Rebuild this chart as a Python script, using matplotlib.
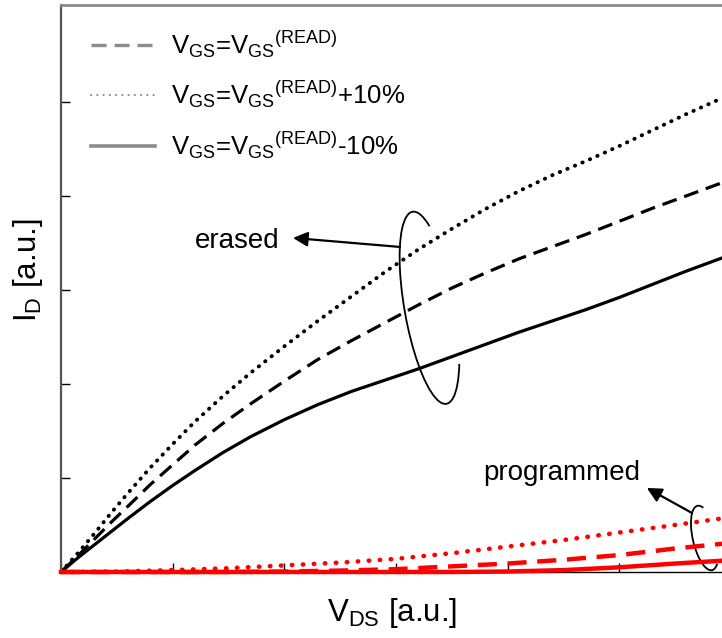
import numpy as np
import matplotlib.pyplot as plt
from matplotlib.patches import Arc
from matplotlib.lines import Line2D
from matplotlib import transforms

plt.rcParams['font.family'] = 'Liberation Sans'
plt.rcParams['mathtext.fontset'] = 'custom'
plt.rcParams['mathtext.rm'] = 'Liberation Sans'
plt.rcParams['mathtext.it'] = 'Liberation Sans'
plt.rcParams['mathtext.default'] = 'regular'

# cella cancellata (erased): I_D vs V_DS per tre valori di V_GS
vds_er = [0, 0.15, 0.3, 0.45, 0.6, 0.8, 1.0, 1.2, 1.45, 1.7, 2.0, 2.3,
          2.6, 2.9, 3.2, 3.5, 3.8, 4.1, 4.4, 4.7, 5.0, 5.3, 5.6, 5.92]
id_er_read = [0, 0.17, 0.35, 0.53, 0.70, 0.93, 1.14, 1.35, 1.58, 1.79, 2.03, 2.26,
              2.46, 2.65, 2.84, 3.02, 3.18, 3.33, 3.46, 3.59, 3.73, 3.87, 4.00, 4.14]
id_er_plus = [0, 0.20, 0.41, 0.63, 0.84, 1.11, 1.36, 1.60, 1.87, 2.12, 2.40, 2.67,
              2.93, 3.19, 3.43, 3.65, 3.86, 4.05, 4.22, 4.37, 4.53, 4.70, 4.87, 5.04]
id_er_minus = [0, 0.15, 0.29, 0.43, 0.57, 0.75, 0.92, 1.08, 1.27, 1.44, 1.62, 1.78,
               1.92, 2.04, 2.16, 2.29, 2.42, 2.55, 2.67, 2.79, 2.92, 3.06, 3.20, 3.34]

# cella programmata
vds_pr = [0, 0.5, 1.0, 1.5, 2.0, 2.5, 3.0, 3.5, 4.0, 4.5, 5.0, 5.5, 5.92]
id_pr_read = [0, 0, 0, 0, 0.005, 0.015, 0.03, 0.06, 0.09, 0.13, 0.18, 0.25, 0.30]
id_pr_plus = [0, 0.005, 0.02, 0.04, 0.07, 0.10, 0.14, 0.20, 0.27, 0.34, 0.42, 0.50, 0.57]
id_pr_minus = [0, 0, 0, 0, 0, 0, 0, 0, 0.005, 0.02, 0.05, 0.09, 0.12]

leg_labels = [r'$V_{GS}$=$V_{GS}{}^{(READ)}$',
              r'$V_{GS}$=$V_{GS}{}^{(READ)}$+10%',
              r'$V_{GS}$=$V_{GS}{}^{(READ)}$-10%']

fig = plt.figure(figsize=(7.22, 6.38), dpi=100)
ax = fig.add_axes([61/722, 66/638, 670/722, 567/638])

ax.plot(vds_er, id_er_read, color='k', lw=2.3, ls=(0, (4.7, 2.5)))
ax.plot(vds_er, id_er_plus, color='k', lw=2.8, ls=(0, (0.1, 2.0)), dash_capstyle='round')
ax.plot(vds_er, id_er_minus, color='k', lw=2.3)

ax.plot(vds_pr, id_pr_read, color='red', lw=3.2, ls=(0, (4.3, 2.4)), clip_on=False, zorder=4)
ax.plot(vds_pr, id_pr_plus, color='red', lw=3.3, ls=(0, (0.1, 2.3)), dash_capstyle='round',
        clip_on=False, zorder=4)
ax.plot(vds_pr, id_pr_minus, color='red', lw=3.2, clip_on=False, zorder=5)

ax.set_xlim(0, 6)
ax.set_ylim(0, 6.03)
ax.set_xticks(range(6))
ax.set_yticks(range(6))
ax.tick_params(direction='in', length=6.5, width=1, color='k',
               labelbottom=False, labelleft=False)
ax.spines['right'].set_visible(False)
ax.spines['top'].set_color('#8a8a8a')
ax.spines['top'].set_linewidth(2)
ax.spines['left'].set_color('#555555')
ax.spines['left'].set_linewidth(1.6)
ax.spines['bottom'].set_linewidth(1)

ax.set_xlabel(r'$V_{DS}$ [a.u.]', fontsize=22.5)
ax.xaxis.set_label_coords(0.494, -0.043)
ax.set_ylabel(r'$I_{D}$ [a.u.]', fontsize=22.5)
ax.yaxis.set_label_coords(-0.024, 0.533)

# legenda in grigio
gray = '#8c8c8c'
handles = [Line2D([], [], color=gray, lw=2.4, ls=(0, (4.5, 2.4))),
           Line2D([], [], color=gray, lw=1.5, ls=(0, (0.1, 2.9)), dash_capstyle='round'),
           Line2D([], [], color=gray, lw=2.6)]
ax.legend(handles, leg_labels, loc='upper left', bbox_to_anchor=(0.045, 0.958),
          frameon=False, fontsize=18.5, handlelength=2.5, handletextpad=0.62,
          labelspacing=0.74, borderpad=0, borderaxespad=0)


def bracket(cx, cy, w, h, angle, t1, t2):
    tr = transforms.Affine2D() + transforms.ScaledTranslation(cx, cy, ax.transData)
    ax.add_patch(Arc((0, 0), w, h, angle=angle, theta1=t1, theta2=t2,
                     transform=tr, color='k', lw=1.3, clip_on=False))


arrow = dict(arrowstyle='-|>', color='k', lw=1.6, mutation_scale=22,
             shrinkA=0, shrinkB=0)

# erased
bracket(3.30, 2.81, 50, 195, 10, 80, 288)
ax.annotate('', xy=(2.077, 3.553), xytext=(3.035, 3.457), arrowprops=arrow)
ax.text(1.96, 3.447, 'erased', ha='right', va='baseline', fontsize=20)

# programmed
bracket(5.765, 0.362, 24, 66, 12.8, 80, 283)
ax.annotate('', xy=(5.246, 0.894), xytext=(5.65, 0.628), arrowprops=arrow)
ax.text(3.78, 0.98, 'programmed', ha='left', va='baseline', fontsize=20)

fig.savefig('out.png', dpi=100)
